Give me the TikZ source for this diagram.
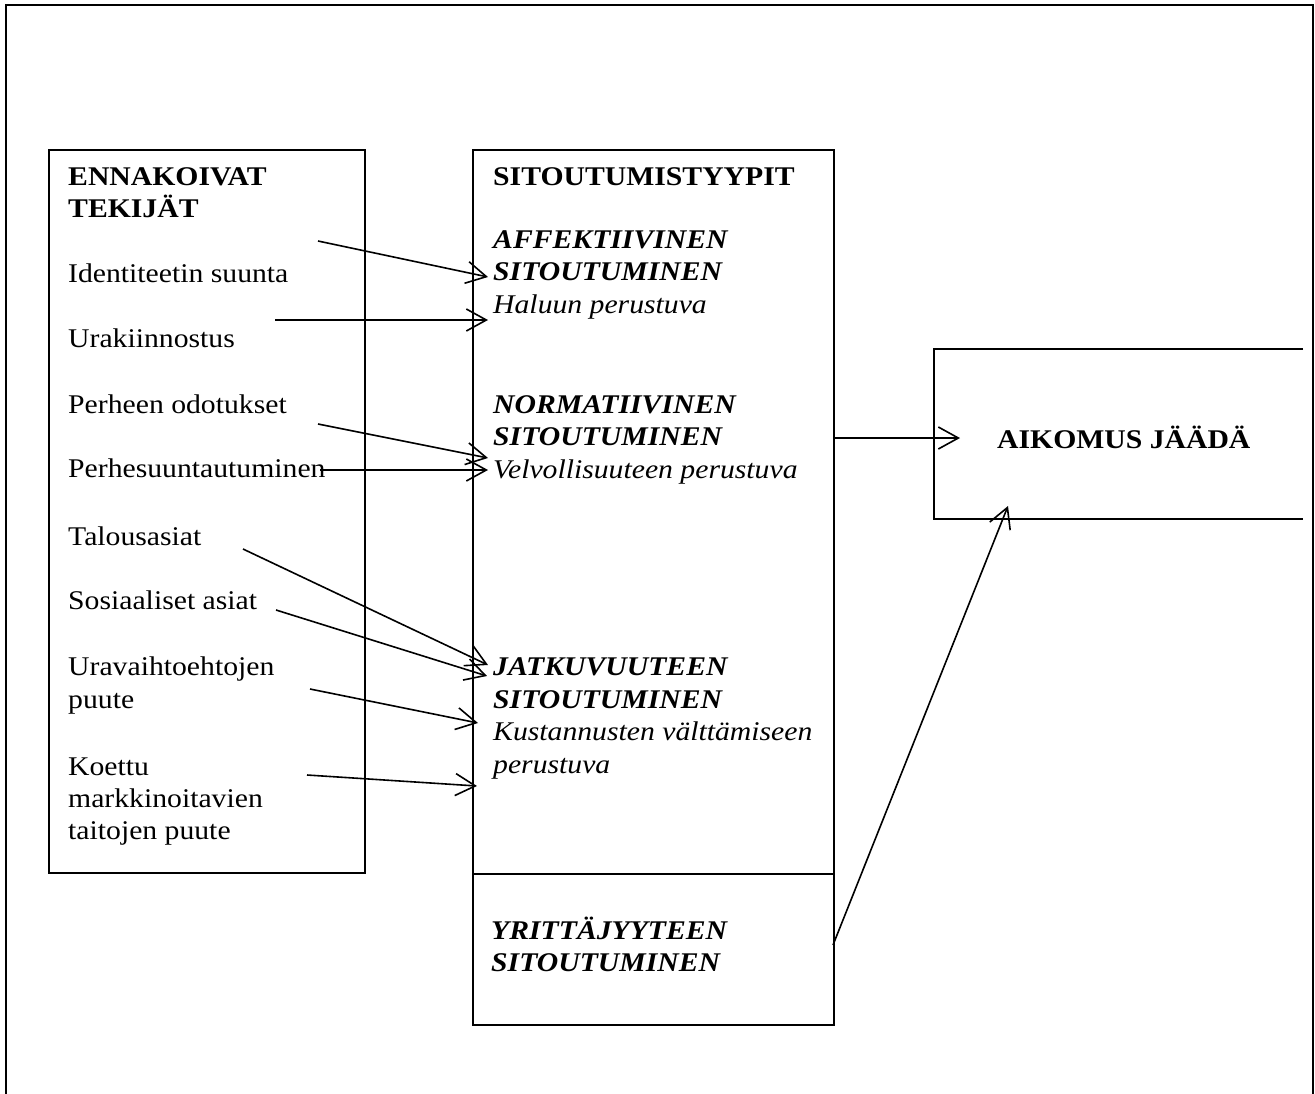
\documentclass[tikz,border=0pt]{standalone}
\usepackage{fontspec}
\setmainfont{Liberation Serif}[FakeStretch=1.1]
\usetikzlibrary{arrows.meta}
\begin{document}
\begin{tikzpicture}[x=1pt,y=-1pt,
  frame/.style={draw,line width=1.6pt,fill=none,inner sep=0pt,anchor=north west},
  txt/.style={anchor=base west,inner sep=0pt,font=\fontsize{27}{32}\selectfont},
  head/.style={txt,font=\fontsize{27}{32}\selectfont\bfseries},
  typ/.style={txt,font=\fontsize{27}{32}\selectfont\bfseries\itshape},
  sub/.style={txt,font=\fontsize{27}{32}\selectfont\itshape},
  link/.style={line width=1.6pt,-{Straight Barb[length=20pt,width=22pt,line width=1.6pt]}}
]
\useasboundingbox (0,0) rectangle (1315,1093);

% outer frame, open at the bottom
\draw[line width=2.2pt] (6,1100) -- (6,5) -- (1313,5) -- (1313,1100);

% boxes
\node[frame,minimum width=316pt,minimum height=723pt] (lbox) at (48,149) {};
\node[frame,minimum width=361pt,minimum height=724pt] (mbox) at (472,149) {};
\node[frame,minimum width=361pt,minimum height=151pt] (ybox) at (472,873) {};
% target box, its right side runs off the edge
\draw[line width=1.6pt] (1303,349) -- (934,349) -- (934,519) -- (1303,519);

% left column
\node[head] (ennak1) at (68,185) {ENNAKOIVAT};
\node[head] (ennak2) at (68,217) {TEKIJÄT};
\node[txt] (ident) at (68,282) {Identiteetin suunta};
\node[txt] (ura) at (68,347) {Urakiinnostus};
\node[txt] (odot) at (68,413) {Perheen odotukset};
\node[txt] (suunt) at (68,477) {Perhesuuntautuminen};
\node[txt] (talous) at (68,545) {Talousasiat};
\node[txt] (sos) at (68,609) {Sosiaaliset asiat};
\node[txt] (uravaiht1) at (68,675) {Uravaihtoehtojen};
\node[txt] (uravaiht2) at (68,708) {puute};
\node[txt] (koettu1) at (68,775) {Koettu};
\node[txt] (koettu2) at (68,807) {markkinoitavien};
\node[txt] (koettu3) at (68,839) {taitojen puute};

% middle column
\node[head] (sitt) at (493,185) {SITOUTUMISTYYPIT};
\node[typ] (affek1) at (493,248) {AFFEKTIIVINEN};
\node[typ] (affek2) at (493,280) {SITOUTUMINEN};
\node[sub] (haluun) at (493,313) {Haluun perustuva};
\node[typ] (norm1) at (493,413) {NORMATIIVINEN};
\node[typ] (norm2) at (493,445) {SITOUTUMINEN};
\node[sub] (velv) at (493,478) {Velvollisuuteen perustuva};
\node[typ] (jatk1) at (493,675) {JATKUVUUTEEN};
\node[typ] (jatk2) at (493,708) {SITOUTUMINEN};
\node[sub] (kust1) at (493,740) {Kustannusten välttämiseen};
\node[sub] (kust2) at (493,773) {perustuva};
\node[typ] (yritt1) at (491,939) {YRITTÄJYYTEEN};
\node[typ] (yritt2) at (491,971) {SITOUTUMINEN};

% right box
\node[head] (aikomus) at (997,448) {AIKOMUS JÄÄDÄ};

% connector end points
\coordinate (s1) at (318,241);  \coordinate (t1) at (488,277);
\coordinate (s2) at (275,320);  \coordinate (t2) at (488,320);
\coordinate (s3) at (318,424);  \coordinate (t3) at (488,458);
\coordinate (s4) at (320,470);  \coordinate (t4) at (488,470);
\coordinate (s5) at (243,549);  \coordinate (t5) at (488,665);
\coordinate (s6) at (276,610);  \coordinate (t6) at (487,676);
\coordinate (s7) at (310,689);  \coordinate (t7) at (478,723);
\coordinate (s8) at (307,775);  \coordinate (t8) at (477,786);
\coordinate (s9) at (833,438);  \coordinate (t9) at (960,438);
\coordinate (s10) at (833,945); \coordinate (t10) at (1008,506);

\draw[link] (s1) -- (t1);
\draw[link] (s2) -- (t2);
\draw[link] (s3) -- (t3);
\draw[link] (s4) -- (t4);
\draw[link] (s5) -- (t5);
\draw[link] (s6) -- (t6);
\draw[link] (s7) -- (t7);
\draw[link] (s8) -- (t8);
\draw[link] (s9) -- (t9);
\draw[link] (s10) -- (t10);
\end{tikzpicture}
\end{document}
